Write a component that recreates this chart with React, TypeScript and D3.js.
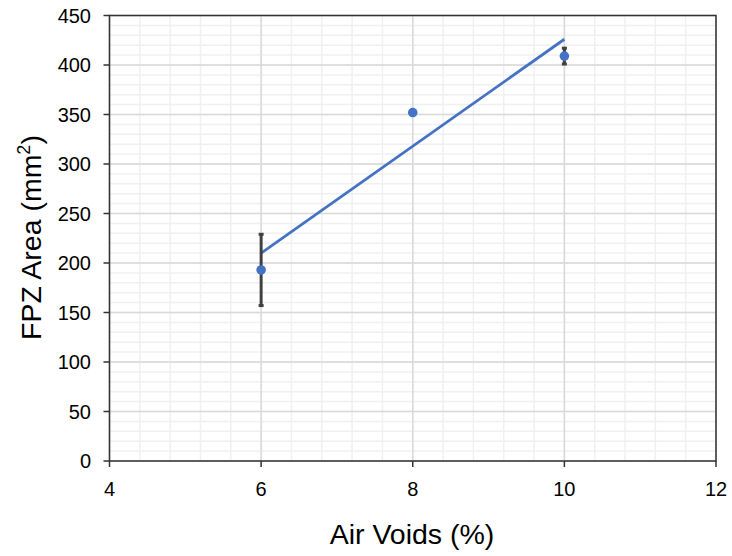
import React from "react";
import * as d3 from "d3";

const airVoids = [6, 8, 10];
const fpzArea = [193, 352, 409];
const errorBar = [36, 0, 8];
const xTicks = [4, 6, 8, 10, 12];
const yTicks = [0, 50, 100, 150, 200, 250, 300, 350, 400, 450];

const W = 732, H = 556;
const L = 109.5, R = 716, T = 15.5, B = 461;

export default function App() {
  const x = d3.scaleLinear().domain([4, 12]).range([L, R]);
  const y = d3.scaleLinear().domain([0, 450]).range([B, T]);
  const xMinor = d3.range(4, 12.001, 0.4);
  const yMinor = d3.range(0, 450.001, 10);
  const xm = d3.mean(airVoids)!;
  const ym = d3.mean(fpzArea)!;
  const slope = d3.sum(airVoids.map((v, i) => (v - xm) * (fpzArea[i] - ym))) / d3.sum(airVoids.map(v => (v - xm) ** 2));
  const icpt = ym - slope * xm;
  const x0 = d3.min(airVoids)!, x1 = d3.max(airVoids)!;
  const font = "Liberation Sans, Arial, sans-serif";
  return (
    <svg width={W} height={H} style={{ position: "absolute", left: 0, top: 0, fontFamily: font }}>
      <rect width={W} height={H} fill="#fff" />
      {xMinor.map((v, i) => (
        <line key={"xm" + i} x1={x(v)} x2={x(v)} y1={T} y2={B} stroke="#f0f0f0" strokeWidth={1.5} />
      ))}
      {yMinor.map((v, i) => (
        <line key={"ym" + i} x1={L} x2={R} y1={y(v)} y2={y(v)} stroke="#f0f0f0" strokeWidth={1.5} />
      ))}
      {xTicks.map(v => (
        <line key={"xg" + v} x1={x(v)} x2={x(v)} y1={T} y2={B} stroke="#d9d9d9" strokeWidth={1.5} />
      ))}
      {yTicks.map(v => (
        <line key={"yg" + v} x1={L} x2={R} y1={y(v)} y2={y(v)} stroke="#d9d9d9" strokeWidth={1.5} />
      ))}
      <rect x={L} y={T} width={R - L} height={B - T} fill="none" stroke="#333" strokeWidth={1.5} />
      {yTicks.map(v => (
        <g key={"yt" + v}>
          <line x1={L - 6} x2={L} y1={y(v)} y2={y(v)} stroke="#333" strokeWidth={1.5} />
          <text x={91} y={y(v)} dy="0.36em" textAnchor="end" fontSize={20} fill="#000">{v}</text>
        </g>
      ))}
      {xTicks.map(v => (
        <g key={"xt" + v}>
          <line x1={x(v)} x2={x(v)} y1={B} y2={B + 6} stroke="#333" strokeWidth={1.5} />
          <text x={x(v)} y={496} textAnchor="middle" fontSize={20} fill="#000">{v}</text>
        </g>
      ))}
      <line x1={x(x0)} y1={y(icpt + slope * x0)} x2={x(x1)} y2={y(icpt + slope * x1)} stroke="#4472C4" strokeWidth={2.8} />
      {airVoids.map((v, i) => errorBar[i] > 0 ? (
        <g key={"e" + i}>
          <line x1={x(v)} x2={x(v)} y1={y(fpzArea[i] - errorBar[i])} y2={y(fpzArea[i] + errorBar[i])} stroke="#404040" strokeWidth={3} />
          <line x1={x(v) - 2.5} x2={x(v) + 2.5} y1={y(fpzArea[i] - errorBar[i])} y2={y(fpzArea[i] - errorBar[i])} stroke="#404040" strokeWidth={3} />
          <line x1={x(v) - 2.5} x2={x(v) + 2.5} y1={y(fpzArea[i] + errorBar[i])} y2={y(fpzArea[i] + errorBar[i])} stroke="#404040" strokeWidth={3} />
        </g>
      ) : null)}
      {airVoids.map((v, i) => (
        <circle key={"p" + i} cx={x(v)} cy={y(fpzArea[i])} r={4.8} fill="#4472C4" />
      ))}
      <text x={412} y={544} textAnchor="middle" fontSize={28.5} fill="#000">Air Voids (%)</text>
      <text transform={`translate(41,237.5) rotate(-90)`} textAnchor="middle" fontSize={28.5} fill="#000">
        FPZ Area (mm<tspan dy="-11" fontSize={18}>2</tspan><tspan dy="11">)</tspan>
      </text>
    </svg>
  );
}
